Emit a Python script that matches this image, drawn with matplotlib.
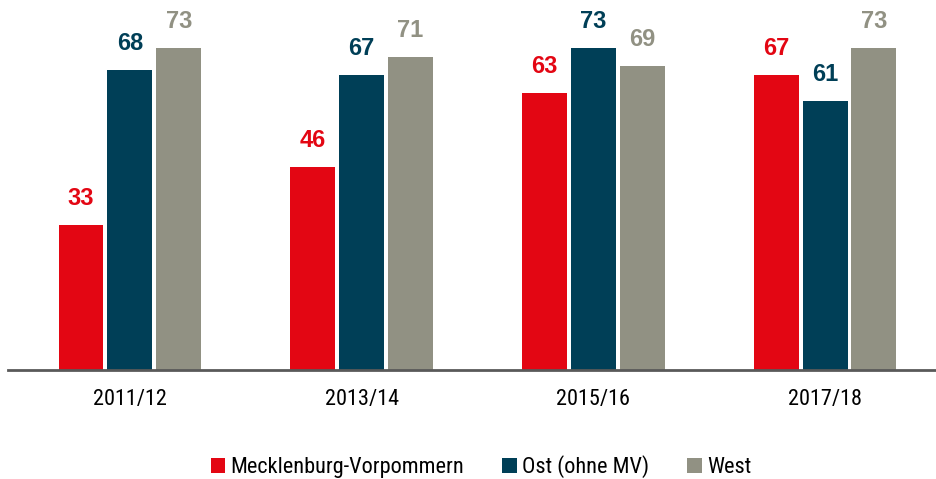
import matplotlib
matplotlib.use("Agg")
import matplotlib.pyplot as plt
from matplotlib import font_manager
import numpy as np

# the original uses a narrow Arial; take a condensed face if one is installed
names = {f.name for f in font_manager.fontManager.ttflist}
narrow = [n for n in ["Liberation Sans Narrow", "Arial Narrow", "DejaVu Sans Condensed",
                      "Roboto Condensed", "Open Sans Condensed"] if n in names]
if narrow:
    FONT, TICK_SIZE = narrow[0], 16
else:
    FONT, TICK_SIZE = "Liberation Sans", 15
plt.rcParams["font.family"] = [FONT, "DejaVu Sans"]

years = ["2011/12", "2013/14", "2015/16", "2017/18"]
series = ["Mecklenburg-Vorpommern", "Ost (ohne MV)", "West"]
mv = [33, 46, 63, 67]
ost = [68, 67, 73, 61]
west = [73, 71, 69, 73]
colors = ["#E30613", "#003F57", "#919183"]

fig = plt.figure(figsize=(9.37, 4.79), dpi=100)
ax = fig.add_axes([8 / 937, 1 - 370 / 479, 929 / 937, 370 / 479])

x = np.arange(len(years))
width = 0.194
step = 0.211
for i, (vals, name, col) in enumerate(zip([mv, ost, west], series, colors)):
    pos = x + (i - 1) * step
    ax.bar(pos, vals, width, color=col, label=name)
    for p, v in zip(pos, vals):
        ax.text(p, v + 3.4, str(v), ha="center", va="bottom", color=col,
                fontsize=17, fontweight="bold", family=["Liberation Sans", "DejaVu Sans"])

ax.set_xlim(-0.526, 3.483)
ax.set_ylim(0, 84)
ax.set_yticks([])
ax.set_xticks(x)
ax.set_xticklabels(years, fontsize=TICK_SIZE)
ax.tick_params(axis="x", length=0, pad=14)
for s in ["top", "right", "left"]:
    ax.spines[s].set_visible(False)
ax.spines["bottom"].set_color("#595959")
ax.spines["bottom"].set_linewidth(2)

fig.legend(loc="center", bbox_to_anchor=(481 / 937, 1 - 467 / 479), ncol=3,
           frameon=False, fontsize=TICK_SIZE, handlelength=0.65, handleheight=0.65,
           handletextpad=0.25, columnspacing=1.7)

fig.savefig("out.png", dpi=100)
